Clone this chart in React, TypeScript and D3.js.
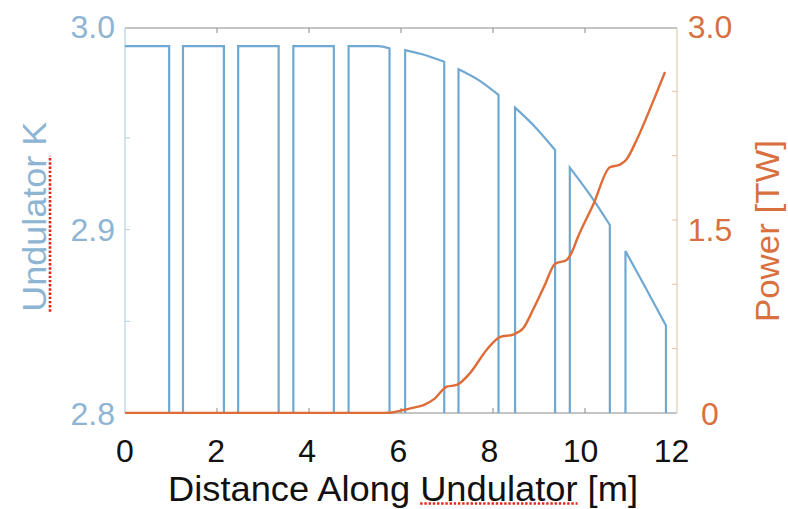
import React, { useEffect, useRef } from "react";
import * as d3 from "d3";

// ---- data ----
const xTickValues = [0, 2, 4, 6, 8, 10, 12];
const kLabelValues = [2.8, 2.9, 3.0];
const kLabelTexts = ["2.8", "2.9", "3.0"];
const kMinorTicks = [2.85, 2.9, 2.95];
const powerLabelValues = [0, 1.5, 3.0];
const powerLabelTexts = ["0", "1.5", "3.0"];
const powerMinorTicks = [0.5, 1.0, 1.5, 2.0, 2.5];

// undulator K per segment: [z (m), K]
const seg1: [number, number][] = [[0, 3.0], [0.96, 3.0]];
const seg2: [number, number][] = [[1.26, 3.0], [2.15, 3.0]];
const seg3: [number, number][] = [[2.46, 3.0], [3.34, 3.0]];
const seg4: [number, number][] = [[3.66, 3.0], [4.54, 3.0]];
const seg5: [number, number][] = [[4.86, 3.0], [5.5, 3.0], [5.75, 2.9988]];
const seg6: [number, number][] = [[6.09, 2.9979], [6.52, 2.9952], [6.94, 2.9915]];
const seg7: [number, number][] = [[7.25, 2.9874], [7.68, 2.9816], [8.12, 2.9734]];
const seg8: [number, number][] = [[8.48, 2.9665], [8.91, 2.9561], [9.35, 2.9434]];
const seg9: [number, number][] = [[9.67, 2.9338], [10.11, 2.9189], [10.54, 2.9025]];
const seg10: [number, number][] = [[10.88, 2.8883], [11.32, 2.8682], [11.76, 2.8477]];
const undulatorSegments = [seg1, seg2, seg3, seg4, seg5, seg6, seg7, seg8, seg9, seg10];

// power along undulator
const powerZ = [0, 5.5, 5.8, 6.05, 6.25, 6.49, 6.74, 6.99, 7.21, 7.5, 7.86, 8.15, 8.44, 8.66, 8.88, 9.12, 9.35, 9.6, 9.74, 9.82, 10.18, 10.54, 10.76, 10.9, 11.12, 11.49, 11.74];
const powerTW = [0, 0, 0.004, 0.023, 0.04, 0.062, 0.114, 0.204, 0.218, 0.31, 0.49, 0.59, 0.61, 0.66, 0.81, 0.99, 1.16, 1.19, 1.27, 1.345, 1.62, 1.91, 1.93, 1.97, 2.12, 2.43, 2.65];

const W = 788, H = 509;
const BLUE = "#6fa9d2";
const BLUE_TEXT = "#8db5d3";
const ORANGE = "#df6c36";
const ORANGE_TEXT = "#d8713f";
const FONT = "'Liberation Sans', Arial, Helvetica, sans-serif";

export default function App() {
  const ref = useRef<SVGSVGElement | null>(null);

  useEffect(() => {
    document.body.style.margin = "0";
    const svg = d3.select(ref.current);
    svg.selectAll("*").remove();

    const left = 125, right = 677, top = 28, bottom = 413;
    const x = d3.scaleLinear().domain([0, 12]).range([left, right]);
    const kPerPx = 1 / 1834;
    const k = d3.scaleLinear().domain([2.8, 2.8 + (bottom - top) * kPerPx]).range([bottom, top]);
    const p = d3.scaleLinear().domain([0, 3.0]).range([bottom, top - 1]);

    svg.append("rect").attr("width", W).attr("height", H).attr("fill", "#fff");

    svg.append("defs").append("clipPath").attr("id", "plotclip")
      .append("rect").attr("x", left).attr("y", top - 2).attr("width", right - left).attr("height", bottom - top + 3);

    // top & bottom axis lines
    const grey = "#8a8a8a";
    svg.append("line").attr("x1", left).attr("x2", right).attr("y1", top).attr("y2", top).attr("stroke", grey).attr("stroke-width", 1);
    svg.append("line").attr("x1", left).attr("x2", right).attr("y1", bottom).attr("y2", bottom).attr("stroke", grey).attr("stroke-width", 1);
    // x ticks (inside, top and bottom)
    xTickValues.slice(1, -1).forEach((v) => {
      svg.append("line").attr("x1", x(v)).attr("x2", x(v)).attr("y1", top).attr("y2", top + 5).attr("stroke", grey);
      svg.append("line").attr("x1", x(v)).attr("x2", x(v)).attr("y1", bottom).attr("y2", bottom - 5).attr("stroke", grey);
    });
    // left axis
    svg.append("line").attr("x1", left).attr("x2", left).attr("y1", top).attr("y2", bottom).attr("stroke", "#c4d9e7").attr("stroke-width", 1.5);
    kMinorTicks.forEach((v) => {
      svg.append("line").attr("x1", left).attr("x2", left + 5).attr("y1", k(v)).attr("y2", k(v)).attr("stroke", "#b4cfe2");
    });
    // right axis
    svg.append("line").attr("x1", right).attr("x2", right).attr("y1", top).attr("y2", bottom).attr("stroke", "#e6d6c6").attr("stroke-width", 1.5);
    powerMinorTicks.forEach((v) => {
      svg.append("line").attr("x1", right).attr("x2", right - 5).attr("y1", p(v)).attr("y2", p(v)).attr("stroke", "#e3c2ae");
    });

    const g = svg.append("g").attr("clip-path", "url(#plotclip)");

    // undulator K line
    const topLine = d3.line<[number, number]>().x((d) => x(d[0])).y((d) => k(d[1])).curve(d3.curveMonotoneX);
    const kLow = k.domain()[0];
    undulatorSegments.forEach((seg) => {
      const first = seg[0];
      const last = seg[seg.length - 1];
      const tp = topLine(seg) as string;
      let path = "";
      if (first[0] > 0) path += `M${x(first[0])},${k(kLow)}L` + tp.slice(1);
      else path += tp;
      path += `L${x(last[0])},${k(kLow)}`;
      g.append("path").attr("d", path).attr("fill", "none").attr("stroke", BLUE).attr("stroke-width", 2.2);
    });

    // power line
    const pts: [number, number][] = powerZ.map((z, i) => [z, powerTW[i]]);
    const pLine = d3.line<[number, number]>().x((d) => x(d[0])).y((d) => p(d[1])).curve(d3.curveMonotoneX);
    g.append("path").attr("d", pLine(pts) as string).attr("fill", "none").attr("stroke", ORANGE).attr("stroke-width", 2.4);

    // tick labels
    const kLabelY = kLabelValues.map((v, i) => (i === kLabelValues.length - 1 ? k.range()[1] - 2 : k(v)));
    kLabelTexts.forEach((t, i) => {
      svg.append("text").attr("x", left - 10).attr("y", kLabelY[i]).attr("dy", "0.36em").attr("text-anchor", "end")
        .attr("font-family", FONT).attr("font-size", 32).attr("fill", BLUE_TEXT).text(t);
    });
    powerLabelTexts.forEach((t, i) => {
      svg.append("text").attr("x", right + 33).attr("y", kLabelY[i]).attr("dy", "0.36em").attr("text-anchor", "middle")
        .attr("font-family", FONT).attr("font-size", 32).attr("fill", ORANGE_TEXT).text(t);
    });
    xTickValues.forEach((v) => {
      svg.append("text").attr("x", x(v) - v * 0.45).attr("y", 450).attr("dy", "0.36em").attr("text-anchor", "middle")
        .attr("font-family", FONT).attr("font-size", 32).attr("fill", "#111").text(String(v));
    });

    // axis titles
    const xt = svg.append("text").attr("x", 403).attr("y", 501).attr("text-anchor", "middle")
      .attr("font-family", FONT).attr("font-size", 35).attr("fill", "#111")
      .attr("textLength", 470).attr("lengthAdjust", "spacingAndGlyphs")
      .text("Distance Along Undulator [m]");
    const yl = svg.append("text").attr("transform", `translate(46,216.7) rotate(-90)`).attr("text-anchor", "middle")
      .attr("font-family", FONT).attr("font-size", 33).attr("fill", BLUE_TEXT)
      .attr("textLength", 190).attr("lengthAdjust", "spacingAndGlyphs")
      .text("Undulator K");
    svg.append("text").attr("transform", `translate(779,231) rotate(-90)`).attr("text-anchor", "middle")
      .attr("font-family", FONT).attr("font-size", 34).attr("fill", ORANGE_TEXT)
      .attr("textLength", 182).attr("lengthAdjust", "spacingAndGlyphs")
      .text("Power [TW]");

    // spell-check style dotted underlines under "Undulator"
    try {
      const xn = xt.node() as SVGTextElement;
      const s = xn.getStartPositionOfChar(15);
      const e = xn.getEndPositionOfChar(23);
      svg.append("line").attr("x1", s.x).attr("x2", e.x).attr("y1", 503.5).attr("y2", 503.5)
        .attr("stroke", "#e8231b").attr("stroke-width", 2.6).attr("stroke-dasharray", "2.4,1.8");
      const yn = yl.node() as SVGTextElement;
      const ys = yn.getStartPositionOfChar(0);
      const ye = yn.getEndPositionOfChar(8);
      svg.append("line").attr("x1", 50).attr("x2", 50).attr("y1", 216.7 - ys.x).attr("y2", 216.7 - ye.x)
        .attr("stroke", "#e8231b").attr("stroke-width", 2.6).attr("stroke-dasharray", "2.4,1.8");
    } catch (err) {
      // ignore
    }
  }, []);

  return <svg ref={ref} width={W} height={H} style={{ display: "block" }} />;
}
